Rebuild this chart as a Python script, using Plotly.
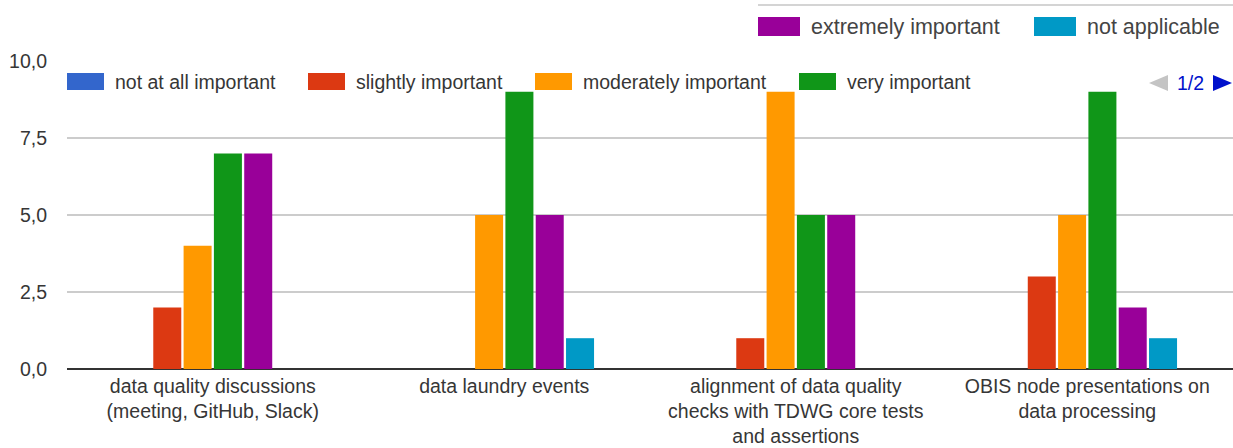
import plotly.graph_objects as go

# Survey question: importance of data-quality activities
categories = [
    "data quality discussions<br>(meeting, GitHub, Slack)",
    "data laundry events",
    "alignment of data quality<br>checks with TDWG core tests<br>and assertions",
    "OBIS node presentations on<br>data processing",
]
series_names = [
    "not at all important",
    "slightly important",
    "moderately important",
    "very important",
    "extremely important",
    "not applicable",
]
not_at_all = [0, 0, 0, 0]
slightly = [2, 0, 1, 3]
moderately = [4, 5, 9, 5]
very = [7, 9, 5, 9]
extremely = [7, 5, 5, 2]
not_applicable = [0, 1, 0, 1]
y_ticks = [0, 2.5, 5, 7.5, 10]

series_values = [not_at_all, slightly, moderately, very, extremely, not_applicable]
colors = ["#3366cc", "#dc3912", "#ff9900", "#109618", "#990099", "#0099c6"]

W, H = 1233, 448
L, R, T, B = 67, 0, 61, 79
PW, PH = W - L - R, H - T - B
FONT = "Liberation Sans, Arial, sans-serif"
TXT = "#363636"


def px(x):
    return (x - L) / PW


def py(y):
    return (H - B - y) / PH


fig = go.Figure()
for name, vals, col in zip(series_names, series_values, colors):
    fig.add_trace(go.Bar(
        x=categories, y=vals, name=name,
        marker=dict(color=col, line=dict(width=0)),
        showlegend=False,
    ))

shapes = []
annotations = []

# Legend, first row (page 1 of 2)
row1 = [(67, 0), (308, 1), (535, 2), (799, 3)]
for x0, i in row1:
    shapes.append(dict(type="rect", xref="paper", yref="paper",
                       x0=px(x0), x1=px(x0 + 37), y0=py(90), y1=py(73),
                       fillcolor=colors[i], line=dict(width=0)))
    annotations.append(dict(xref="paper", yref="paper", x=px(x0 + 46), y=py(82),
                            xanchor="left", yanchor="middle", showarrow=False,
                            text=series_names[i],
                            font=dict(family=FONT, size=19.5, color=TXT)))

# Legend pager
shapes.append(dict(type="path", xref="paper", yref="paper",
                   path=f"M {px(1168)},{py(75)} L {px(1168)},{py(91)} L {px(1149)},{py(83)} Z",
                   fillcolor="#c4c4c4", line=dict(width=0)))
shapes.append(dict(type="path", xref="paper", yref="paper",
                   path=f"M {px(1213)},{py(75)} L {px(1213)},{py(91)} L {px(1232)},{py(83)} Z",
                   fillcolor="#0011cc", line=dict(width=0)))
annotations.append(dict(xref="paper", yref="paper", x=px(1190), y=py(83),
                        xanchor="center", yanchor="middle", showarrow=False,
                        text="1/2", font=dict(family=FONT, size=19.5, color="#0011cc")))

# Legend, second page shown above the chart
shapes.append(dict(type="line", xref="paper", yref="paper",
                   x0=px(758), x1=px(1233), y0=py(5), y1=py(5),
                   line=dict(color="#d4d4d4", width=2)))
row2 = [(758, 4), (1034, 5)]
for x0, i in row2:
    shapes.append(dict(type="rect", xref="paper", yref="paper",
                       x0=px(x0), x1=px(x0 + 42), y0=py(36), y1=py(17),
                       fillcolor=colors[i], line=dict(width=0)))
    annotations.append(dict(xref="paper", yref="paper", x=px(x0 + 51), y=py(27),
                            xanchor="left", yanchor="middle", showarrow=False,
                            text=series_names[i],
                            font=dict(family=FONT, size=21.5, color="#444444")))

fig.update_layout(
    width=W, height=H,
    margin=dict(l=L, r=R, t=T, b=B, pad=0),
    paper_bgcolor="white", plot_bgcolor="white",
    barmode="group", bargap=0.376, bargroupgap=0.076,
    separators=",.",
    font=dict(family=FONT, size=19.5, color=TXT),
    shapes=shapes, annotations=annotations,
    xaxis=dict(type="category", showgrid=False, ticks="", showline=False,
               zeroline=False, ticklabelstandoff=3,
               tickfont=dict(family=FONT, size=19.5, color=TXT)),
    yaxis=dict(range=[0, 10], tickvals=y_ticks, tickformat=".1f",
               showgrid=True, gridcolor="#cccccc", gridwidth=2,
               zeroline=True, zerolinecolor="#333333", zerolinewidth=2,
               ticks="", ticklabelstandoff=19,
               tickfont=dict(family=FONT, size=19.5, color=TXT)),
)

fig.write_html("out.html")
